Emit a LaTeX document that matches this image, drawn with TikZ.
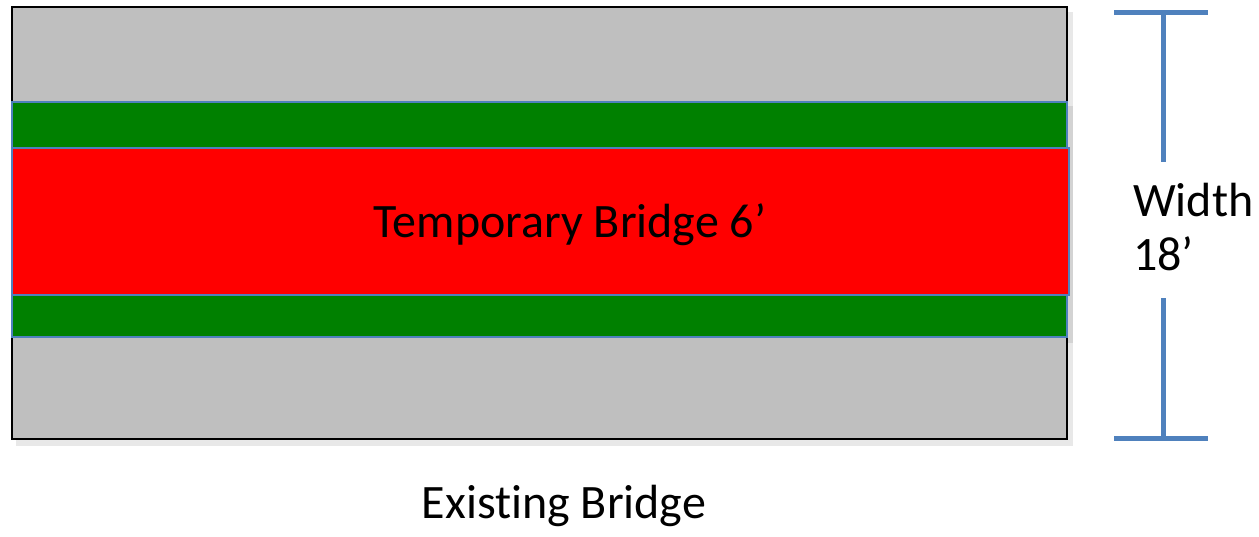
\documentclass[tikz,border=0pt]{standalone}
\usepackage{fontspec}
\setmainfont{Carlito}[Ligatures=NoCommon]

\definecolor{deckgray}{RGB}{191,191,191}
\definecolor{lanegreen}{RGB}{0,128,0}
\definecolor{edgeblue}{RGB}{79,129,189}

\begin{document}
\begin{tikzpicture}[x=1pt, y=-1pt]

\useasboundingbox (0,0) rectangle (1259,536);

%%% Styles

\tikzstyle{shade}=[fill=black, opacity=0.09]
\tikzstyle{label}=[font=\fontsize{48}{54}\selectfont, inner sep=0pt]
\tikzstyle{dim}=[edgeblue, line width=5pt]

% Shadows

\fill [shade] (16,12) rectangle (1073,446);
\fill [shade] (16,106) rectangle (1073,343);

% Existing Bridge deck

\draw [fill=deckgray, line width=2pt] (12,7) rectangle (1067,439);

% Green band

\draw [fill=lanegreen, draw=edgeblue, line width=1.5pt] (12,102) rectangle (1067,337);

% Temporary Bridge

\draw [fill=red, draw=edgeblue, line width=1.5pt] (12,148) rectangle (1069,295);


%%% Labels

\node (T) [label, anchor=base] at (570,237) {Temporary Bridge 6’};

\node (E) [label, anchor=base] at (564,518) {Existing Bridge};

\node (W) [label, anchor=base west] at (1133,216) {Width};
\node (F) [label, anchor=base west] at (1133,270) {18’};


% Width marker

\draw [dim] (1114,12) -- (1208,12);
\draw [dim] (1163,12) -- (1163,162);

\draw [dim] (1163,298) -- (1163,438);
\draw [dim] (1114,438) -- (1208,438);

\end{tikzpicture}
\end{document}
